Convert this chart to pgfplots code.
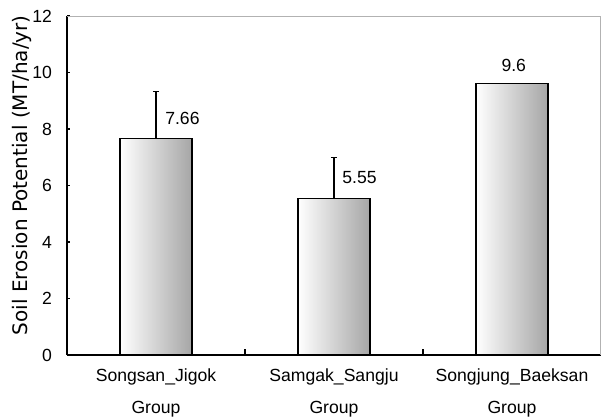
\documentclass[border=0pt]{standalone}
\usepackage{fontspec}
\setmainfont{Liberation Sans}
\newfontfamily\dejavu{DejaVu Sans}
\usepackage{pgfplots}
\pgfplotsset{compat=1.18}
\begin{document}
\begin{tikzpicture}
\useasboundingbox (-33.5pt,-32pt) rectangle (267.5pt,177.5pt);
\begin{axis}[
  scale only axis,
  width=267pt, height=169.5pt,
  xmin=-0.5, xmax=2.5,
  ymin=0, ymax=12,
  axis lines*=left,
  axis line style={black, line width=0.8pt},
  ytick={0,2,...,12},
  xtick={0,1,2},
  xticklabels={{Songsan\_Jigok\\Group},{Samgak\_Sangju\\Group},{Songjung\_Baeksan\\Group}},
  minor xtick={0.5,1.5},
  tick align=inside,
  major tick length=1.5pt,
  minor tick length=3pt,
  x tick style={draw=none},
  minor x tick style={draw=black, line width=0.6pt},
  y tick style={black, line width=0.6pt},
  /pgf/number format/assume math mode=true,
  tick label style={font=\fontsize{8.8}{10}\selectfont},
  yticklabel style={xshift=-4pt},
  xticklabel style={align=center, yshift=-3.5pt, font=\fontsize{8.8}{16}\selectfont},
  every axis y label/.style={at={(rel axis cs:0,0.53)}, xshift=-22.5pt, rotate=90, anchor=center},
  ylabel={\dejavu\fontsize{10}{11}\selectfont Soil Erosion Potential (MT/ha/yr)},
  clip=false,
  barstyle/.style={ybar, bar width=36pt, bar shift=0pt, draw=black, line width=0.6pt,
    left color=white, right color=black!35,
    error bars/.cd, y dir=plus, y explicit,
    error bar style={black, line width=0.6pt},
    error mark options={black, mark size=1.5pt, rotate=90, line width=0.6pt}},
]
\draw[gray!60, line width=0.5pt] (rel axis cs:0,1) -- (rel axis cs:1,1) -- (rel axis cs:1,0);
\addplot[barstyle] coordinates {(0,7.66) +- (0,1.67)};
\addplot[barstyle] coordinates {(1,5.55) +- (0,1.45)};
\addplot[ybar, bar width=36pt, bar shift=0pt, draw=black, line width=0.6pt,
    left color=white, right color=black!35] coordinates {(2,9.6)};
\node[anchor=west, font=\fontsize{8.8}{10}\selectfont, inner sep=0pt] at (axis cs:0.05,8.37) {7.66};
\node[anchor=west, font=\fontsize{8.8}{10}\selectfont, inner sep=0pt] at (axis cs:1.045,6.27) {5.55};
\node[anchor=center, font=\fontsize{8.8}{10}\selectfont, inner sep=0pt] at (axis cs:2.01,10.25) {9.6};
\end{axis}
\end{tikzpicture}
\end{document}
